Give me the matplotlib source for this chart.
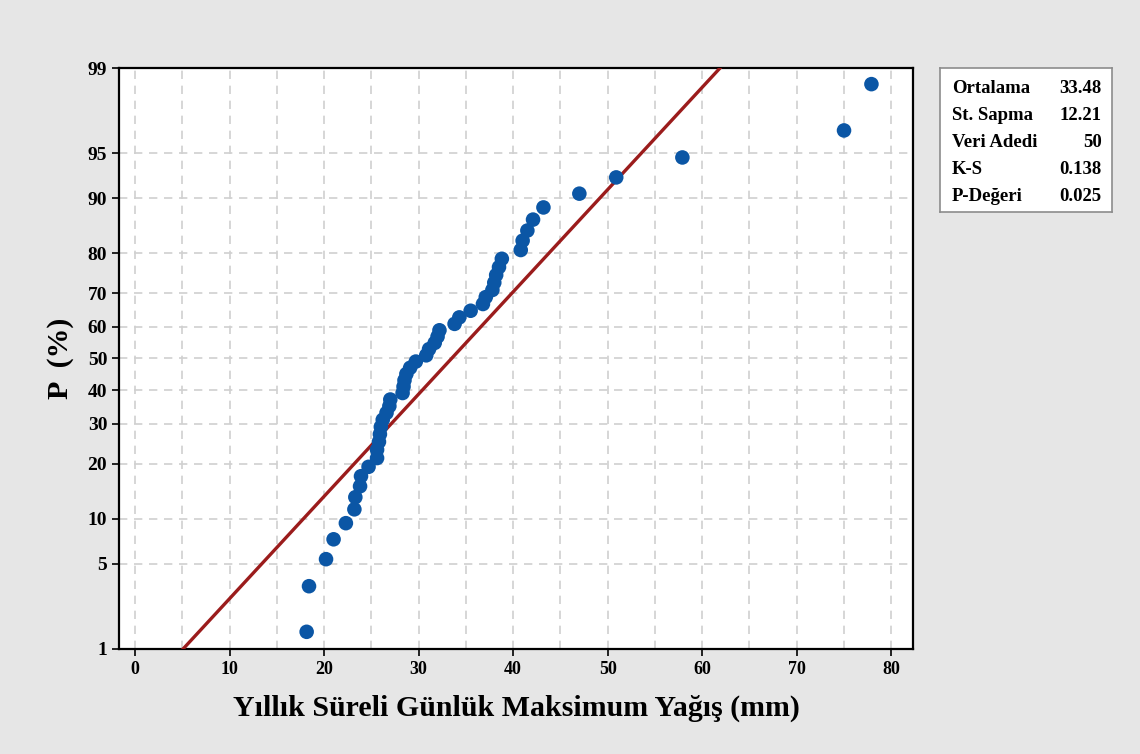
from statistics import NormalDist

import matplotlib
matplotlib.use("Agg")
from matplotlib import pyplot as plt
import numpy as np

# sorted annual maxima (mm) and plotted probabilities (%)
rain = [18.15, 18.4, 20.2, 21.0, 22.3, 23.2, 23.3, 23.8, 23.9, 24.7,
        25.6, 25.6, 25.8, 25.9, 26.0, 26.2, 26.6, 26.9, 27.0, 28.3,
        28.4, 28.5, 28.7, 29.1, 29.7, 30.8, 31.1, 31.7, 32.0, 32.2,
        33.8, 34.3, 35.5, 36.8, 37.1, 37.8, 38.0, 38.2, 38.5, 38.8,
        40.8, 41.0, 41.5, 42.1, 43.2, 47.0, 50.9, 57.9, 75.0, 77.9]
prob = [1.43, 3.41, 5.40, 7.38, 9.36, 11.35, 13.33, 15.31, 17.29, 19.28,
        21.26, 23.24, 25.23, 27.21, 29.19, 31.18, 33.16, 35.14, 37.12, 39.11,
        41.09, 43.07, 45.06, 47.04, 49.02, 51.01, 52.99, 54.97, 56.95, 58.94,
        60.92, 62.90, 64.89, 66.87, 68.85, 70.84, 72.82, 74.80, 76.78, 78.77,
        80.75, 82.73, 84.72, 86.70, 88.68, 90.66, 92.65, 94.63, 96.61, 98.60]

mean_fit = 33.48
sd_fit = 12.21

y_ticks = [1, 5, 10, 20, 30, 40, 50, 60, 70, 80, 90, 95, 99]
x_ticks = [0, 10, 20, 30, 40, 50, 60, 70, 80]

stat_names = ["Ortalama", "St. Sapma", "Veri Adedi", "K-S", "P-Değeri"]
stat_values = ["33.48", "12.21", "50", "0.138", "0.025"]

nd = NormalDist()


def to_z(p):
    return nd.inv_cdf(p / 100.0)


serif = ["Liberation Serif", "DejaVu Serif"]
plt.rcParams["font.family"] = serif
plt.rcParams["font.weight"] = "bold"

fig = plt.figure(figsize=(11.4, 7.54), dpi=100)
fig.patch.set_facecolor("#e6e6e6")

ax = fig.add_axes([0.1044, 0.1393, 0.6965, 0.7705])
ax.set_facecolor("white")

# fitted normal line from 1% to 99%
line_p = np.array([1.0, 99.0])
line_x = [mean_fit + sd_fit * to_z(p) for p in line_p]
ax.plot(line_x, [to_z(p) for p in line_p], color="#9b1c1c", lw=2.4, zorder=3)

# data points
ax.scatter(rain, [to_z(p) for p in prob], s=110, color="#0b56a5",
           edgecolors="none", zorder=4)

ax.set_xlim(-1.7, 82.3)
ax.set_ylim(to_z(1), to_z(99))

ax.set_xticks(x_ticks)
ax.set_xticks(np.arange(0, 85, 5), minor=True)
ax.set_yticks([to_z(p) for p in y_ticks])
ax.set_yticklabels([str(p) for p in y_ticks])
ax.tick_params(axis="x", which="major", labelsize=13, length=5, width=1.2)
ax.tick_params(axis="x", which="minor", length=0)
ax.tick_params(axis="y", labelsize=14, length=5, width=1.2)
for lbl in ax.get_xticklabels() + ax.get_yticklabels():
    lbl.set_fontweight("bold")

ax.grid(True, which="both", axis="x", color="#d0d0d0", linestyle=(0, (5, 4)), lw=1.2)
ax.grid(True, which="major", axis="y", color="#d0d0d0", linestyle=(0, (5, 4)), lw=1.2)
ax.set_axisbelow(True)
for sp in ax.spines.values():
    sp.set_linewidth(1.6)
    sp.set_color("black")

ax.set_xlabel("Yıllık Süreli Günlük Maksimum Yağış (mm)", fontsize=21.5,
              fontweight="bold", labelpad=12)
ax.set_ylabel("P  (%)", fontsize=21.5, fontweight="bold", labelpad=10)

# stats box
box = fig.add_axes([0.8246, 0.7188, 0.1508, 0.1910])
box.set_facecolor("white")
box.set_xticks([])
box.set_yticks([])
for sp in box.spines.values():
    sp.set_color("#8c8c8c")
    sp.set_linewidth(1.2)
box.set_xlim(0, 1)
box.set_ylim(0, 1)
for i, (name, val) in enumerate(zip(stat_names, stat_values)):
    yy = 0.855 - i * 0.187
    box.text(0.07, yy, name, fontsize=13.5, fontweight="bold", va="center", ha="left")
    box.text(0.94, yy, val, fontsize=13.5, fontweight="bold", va="center", ha="right")

fig.savefig("out.png", dpi=100, facecolor=fig.get_facecolor())
